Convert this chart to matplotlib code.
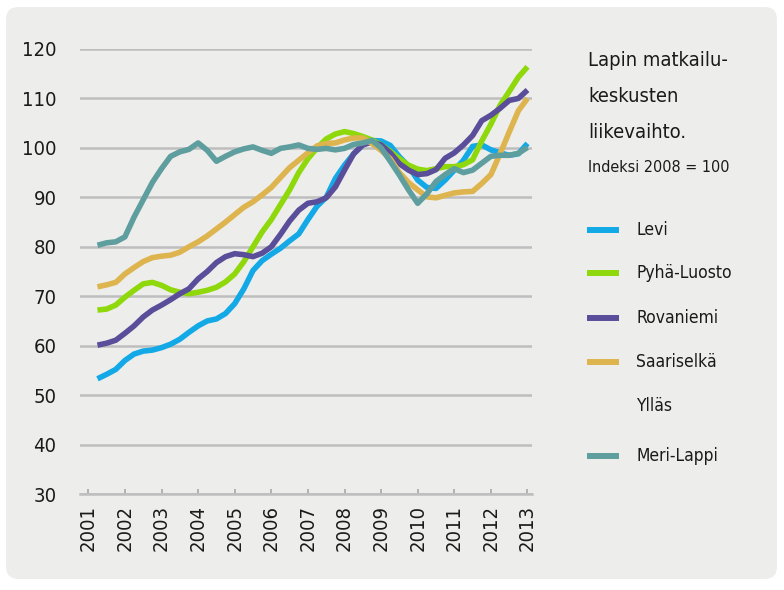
import matplotlib
matplotlib.use('Agg')
import matplotlib.pyplot as plt
from matplotlib.patches import FancyBboxPatch
from matplotlib.lines import Line2D
import numpy as np

plt.rcParams['font.family'] = ['DejaVu Sans']
plt.rcParams['font.stretch'] = 'condensed'

# quarterly index values, 2001 Q2 ... 2013 Q1 (2008 = 100)
quarters = 2001.25 + 0.25 * np.arange(48)
years = list(range(2001, 2014))

levi = [53.3, 54.2, 55.2, 57.0, 58.3, 58.9, 59.1, 59.6, 60.3, 61.3, 62.7, 64.0,
        65.0, 65.4, 66.5, 68.5, 71.5, 75.2, 77.2, 78.5, 79.7, 81.2, 82.6, 85.5,
        88.2, 90.0, 93.8, 96.5, 98.8, 100.6, 101.5, 101.4, 100.5, 98.2, 96.3, 93.5,
        92.0, 91.8, 93.5, 95.5, 97.5, 100.3, 100.6, 99.6, 99.0, 98.5, 98.8, 100.9]
pyha = [67.2, 67.4, 68.2, 69.8, 71.2, 72.5, 72.8, 72.2, 71.3, 70.8, 70.5, 70.8,
        71.2, 71.8, 72.9, 74.5, 77.0, 80.0, 83.0, 85.5, 88.5, 91.5, 95.0, 97.8,
        100.0, 101.8, 102.8, 103.3, 102.9, 102.3, 101.6, 100.6, 99.3, 97.8, 96.5, 95.7,
        95.4, 95.8, 96.2, 96.2, 96.6, 97.6, 101.4, 104.8, 108.6, 111.4, 114.3, 116.4]
rovaniemi = [60.1, 60.5, 61.1, 62.5, 64.0, 65.8, 67.2, 68.2, 69.3, 70.5, 71.5, 73.5,
             75.0, 76.8, 78.0, 78.6, 78.4, 78.0, 78.7, 80.0, 82.5, 85.2, 87.4, 88.8,
             89.1, 89.9, 92.1, 95.5, 98.8, 100.6, 101.2, 100.6, 99.0, 96.8, 95.5, 94.6,
             94.8, 95.6, 97.9, 99.0, 100.6, 102.5, 105.5, 106.6, 108.0, 109.6, 110.0, 111.7]
saariselka = [71.9, 72.3, 72.8, 74.5, 75.8, 77.0, 77.8, 78.1, 78.3, 78.9, 80.0, 81.0,
              82.2, 83.6, 85.0, 86.5, 88.0, 89.1, 90.5, 92.0, 94.0, 96.0, 97.5, 99.0,
              100.4, 100.9, 101.0, 101.6, 102.0, 102.0, 100.9, 99.5, 97.8, 95.0, 93.0, 91.5,
              90.1, 89.9, 90.4, 90.9, 91.1, 91.2, 92.8, 94.6, 98.8, 103.2, 107.5, 110.0]
merilappi = [80.3, 80.8, 81.0, 82.0, 86.0, 89.5, 93.0, 95.8, 98.3, 99.2, 99.7, 101.0,
             99.5, 97.3, 98.3, 99.2, 99.8, 100.2, 99.5, 98.9, 99.9, 100.2, 100.6, 99.9,
             99.7, 99.9, 99.6, 99.9, 100.7, 101.0, 101.5, 100.0, 97.3, 94.5, 91.5, 88.8,
             90.7, 93.2, 94.6, 95.8, 95.0, 95.5, 96.9, 98.3, 98.5, 98.5, 98.9, 100.1]

names = ['Levi', 'Pyhä-Luosto', 'Rovaniemi', 'Saariselkä', 'Ylläs', 'Meri-Lappi']
series = [levi, pyha, rovaniemi, saariselka, None, merilappi]
colors = ['#12A9E6', '#8ED80C', '#5A4E9A', '#DDB44E', 'none', '#5F9E9E']

fig = plt.figure(figsize=(7.84, 5.9), dpi=100)

# grey rounded panel behind everything
panel = FancyBboxPatch((6 / 784, 1 - 579 / 590), 771 / 784, 572 / 590,
                       boxstyle='round,pad=0,rounding_size=0.016',
                       mutation_aspect=784 / 590,
                       transform=fig.transFigure, facecolor='#EDEDEB',
                       edgecolor='none', zorder=-5)
fig.patches.append(panel)

ax = fig.add_axes([80 / 784, 1 - 494 / 590, 452 / 784, 445 / 590])
ax.set_facecolor('none')
ax.set_zorder(2)

for name, vals, c in zip(names, series, colors):
    if vals is None:
        continue
    ax.plot(quarters, vals, color=c, lw=4.0, solid_joinstyle='round',
            solid_capstyle='butt')

ax.set_xlim(2000.773, 2013.123)
ax.set_ylim(30, 120)
ax.set_yticks(range(30, 121, 10))
ax.yaxis.grid(True, color='#BEBEBE', lw=1.8)
ax.set_axisbelow(True)
ax.set_xticks(years)
ax.set_xticklabels([str(y) for y in years], rotation=90)

for s in ['top', 'right', 'left']:
    ax.spines[s].set_visible(False)
ax.spines['bottom'].set_color('#BEBEBE')
ax.spines['bottom'].set_linewidth(1.8)

ax.tick_params(axis='y', length=0, pad=17, labelsize=14.5, labelcolor='#1a1a1a')
ax.tick_params(axis='x', direction='in', length=3.5, width=1.2, color='#A8A8A8',
               pad=8, labelsize=14.5, labelcolor='#1a1a1a')

# title block on the right
fig.text(588 / 784, 1 - 60 / 590, 'Lapin matkailu-', fontsize=14.5, va='center', color='#1a1a1a')
fig.text(588 / 784, 1 - 97 / 590, 'keskusten', fontsize=14.5, va='center', color='#1a1a1a')
fig.text(588 / 784, 1 - 133 / 590, 'liikevaihto.', fontsize=14.5, va='center', color='#1a1a1a')
fig.text(588 / 784, 1 - 167 / 590, 'Indeksi 2008 = 100', fontsize=11.5, va='center', color='#1a1a1a')

# legend
leg_y = [230, 273, 318, 362, 406, 456]
for name, c, y in zip(names, colors, leg_y):
    if c != 'none':
        fig.add_artist(Line2D([587 / 784, 619 / 784], [1 - y / 590, 1 - y / 590],
                              transform=fig.transFigure, color=c, lw=4.3,
                              solid_capstyle='butt'))
    fig.text(636 / 784, 1 - y / 590, name, fontsize=12.5, va='center', color='#1a1a1a')

fig.savefig('out.png', dpi=100, facecolor='white')
